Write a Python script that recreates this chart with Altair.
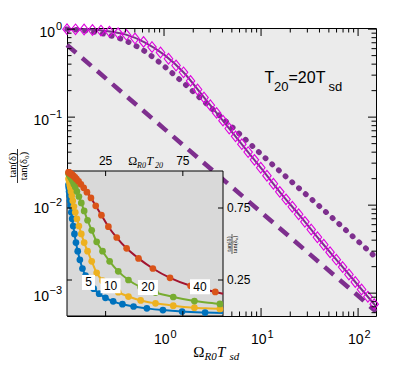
import altair as alt
import pandas as pd

# ---------------- main panel data (log-log) ----------------
solid_x = [0.1, 0.158, 0.251, 0.398, 0.631, 1.0, 1.585, 2.512, 3.981, 6.31, 10.0, 15.85, 25.1, 39.8, 63.1, 100.0, 153.0]
solid_y = [1.0, 0.989, 0.955, 0.871, 0.708, 0.513, 0.324, 0.174, 0.0933, 0.0495, 0.0263, 0.0138, 0.00759, 0.00407, 0.00224, 0.00123, 0.000708]

dotted_x = [0.1, 0.158, 0.251, 0.398, 0.631, 1.0, 1.585, 2.512, 5.01, 10.0, 19.95, 39.8, 100.0, 153.0]
dotted_y = [1.0, 0.955, 0.871, 0.741, 0.562, 0.380, 0.245, 0.155, 0.0776, 0.0380, 0.0191, 0.00977, 0.00389, 0.00254]

dashed_x = [0.1, 1.0, 10.0, 100.0, 153.0]
dashed_y = [0.661, 0.0741, 0.00832, 0.000933, 0.000617]

diamond_x = [0.100, 0.1225, 0.150, 0.183, 0.224, 0.274, 0.336, 0.410, 0.502, 0.615, 0.752, 0.920,
             1.112, 1.330, 1.589, 1.876, 2.215, 2.584, 3.00, 3.48, 4.05, 4.70, 5.46, 6.34, 7.36,
             8.55, 9.93, 11.5, 13.4, 15.6, 18.1, 21.0, 24.4, 28.3, 32.9, 38.1, 44.3, 51.4, 59.7,
             69.3, 80.5, 93.5, 108.6, 126.2, 146.6]
diamond_y = [1.000, 0.995, 0.991, 0.978, 0.963, 0.937, 0.901, 0.859, 0.784, 0.716, 0.626, 0.543,
             0.461, 0.386, 0.323, 0.258, 0.206, 0.167, 0.1365, 0.1117, 0.0912, 0.0743, 0.0605,
             0.0493, 0.0401, 0.0327, 0.0266, 0.0216, 0.0175, 0.01416, 0.01164, 0.00959, 0.00788,
             0.00646, 0.00528, 0.00432, 0.00355, 0.00292, 0.00240, 0.00198, 0.00163, 0.00134,
             0.00110, 0.00091, 0.00075]

x_major = [1, 10, 100]
x_major_exp = ["0", "1", "2"]
x_minor = [0.2, 0.3, 0.4, 0.5, 0.6, 0.7, 0.8, 0.9, 2, 3, 4, 5, 6, 7, 8, 9,
           20, 30, 40, 50, 60, 70, 80, 90]
y_major = [1, 0.1, 0.01, 0.001]
y_major_exp = ["0", "\u22121", "\u22122", "\u22123"]
y_minor = [0.0006, 0.0007, 0.0008, 0.0009, 0.002, 0.003, 0.004, 0.005, 0.006, 0.007, 0.008, 0.009,
           0.02, 0.03, 0.04, 0.05, 0.06, 0.07, 0.08, 0.09, 0.2, 0.3, 0.4, 0.5, 0.6, 0.7, 0.8, 0.9]

# ---------------- inset data (linear) ----------------
curve_names = ["5", "10", "20", "40"]
blue_x = [89.4, 74.5, 62.1, 51.7, 43.1, 35.9, 29.9, 24.9, 20.8, 17.3, 14.4, 12.0, 10.0, 8.33, 6.94,
          5.79, 4.82, 4.02, 3.35, 2.79, 2.33, 1.94, 1.62, 1.35, 1.12, 0.94]
blue_y = [0.024, 0.031, 0.041, 0.053, 0.066, 0.082, 0.102, 0.126, 0.155, 0.19, 0.235, 0.28, 0.33,
          0.39, 0.45, 0.51, 0.57, 0.625, 0.675, 0.72, 0.765, 0.80, 0.835, 0.865, 0.89, 0.91]
yellow_x = [99, 82.5, 68.8, 57.3, 47.7, 39.8, 33.2, 27.6, 23.0, 19.2, 16.0, 13.3, 11.1, 9.26, 7.72,
            6.43, 5.36, 4.47, 3.72, 3.10, 2.58, 2.15, 1.80, 1.50, 1.25, 1.04]
yellow_y = [0.049, 0.058, 0.072, 0.088, 0.108, 0.135, 0.165, 0.20, 0.245, 0.30, 0.38, 0.45, 0.51,
            0.57, 0.625, 0.675, 0.72, 0.76, 0.80, 0.835, 0.865, 0.89, 0.91, 0.93, 0.945, 0.955]
green_x = [99, 82.5, 68.8, 57.3, 47.7, 39.8, 33.2, 27.6, 23.0, 19.2, 16.0, 13.3, 11.1, 9.26, 7.72,
           6.43, 5.36, 4.47, 3.72, 3.10, 2.58, 2.15, 1.80, 1.50, 1.25, 1.04]
green_y = [0.084, 0.104, 0.132, 0.163, 0.20, 0.25, 0.31, 0.38, 0.45, 0.515, 0.595, 0.665, 0.73,
           0.785, 0.83, 0.865, 0.895, 0.915, 0.935, 0.95, 0.96, 0.968, 0.975, 0.981, 0.986, 0.99]
red_x = [96, 80, 66.7, 55.6, 46.3, 38.6, 32.2, 26.8, 22.3, 18.6, 15.5, 12.9, 10.8, 9.0, 7.5, 6.2,
         5.2, 4.3, 3.6, 3.0, 2.5, 2.1, 1.7, 1.45, 1.2, 1.0]
red_y = [0.167, 0.21, 0.265, 0.33, 0.40, 0.47, 0.545, 0.62, 0.70, 0.765, 0.82, 0.86, 0.89, 0.915,
         0.935, 0.95, 0.962, 0.972, 0.978, 0.983, 0.987, 0.99, 0.993, 0.995, 0.997, 0.998]
line_start_x, line_start_y = 0.0, 1.0
line_end_x = 101.0
line_end_y = [0.020, 0.043, 0.081, 0.155]

label_x = [13.9, 28.2, 52.4, 86.1]
label_y = [0.233, 0.21, 0.198, 0.203]

inset_xticks = [25, 75]
inset_yticks = [0.25, 0.75]
inset_ylabels = ["0.25", "0.75"]

# ---------------- styling ----------------
W, H = 309, 288
SANS = "Liberation Sans"
SERIF = "Liberation Serif"
PURPLE = "#7E2F8E"
MAGENTA = "#E000E0"
marker_colors = ["#0072BD", "#EDB120", "#77AC30", "#D95319"]
line_colors = ["#0072BD", "#EDB120", "#77AC30", "#A2142F"]

XS = alt.Scale(type="log", domain=[0.1, 153], range=[0, W], nice=False)
YS = alt.Scale(type="log", domain=[5.5e-4, 1.03], range=[H, 0], nice=False)
IXS = alt.Scale(domain=[0, 101], range=[0, 156], nice=False, zero=False)
IYS = alt.Scale(domain=[0, 1], range=[288, 144], nice=False, zero=False)

DUMMY = pd.DataFrame({"d": [0]})


def mx(f="x"):
    return alt.X(f + ":Q", scale=XS, axis=None)


def my(f="y"):
    return alt.Y(f + ":Q", scale=YS, axis=None)


def main_line(xs, ys, **kw):
    df = pd.DataFrame({"x": xs, "y": ys})
    return alt.Chart(df).mark_line(**kw).encode(x=mx(), y=my())


def label(txt, x, y, size, font=SANS, style="normal", align="left",
          baseline="alphabetic", angle=0):
    return alt.Chart(DUMMY).mark_text(
        text=txt, fontSize=size, font=font, fontStyle=style, align=align,
        baseline=baseline, angle=angle, color="black"
    ).encode(x=alt.value(x), y=alt.value(y))


layers = []

# main curves
layers.append(main_line(dashed_x, dashed_y, color=PURPLE, strokeWidth=4.5, strokeDash=[12, 8]))
layers.append(main_line(dotted_x, dotted_y, color=PURPLE, strokeWidth=5.5, strokeDash=[0.5, 8.5],
                        strokeCap="round", interpolate="monotone"))
layers.append(main_line(solid_x, solid_y, color=PURPLE, strokeWidth=2, interpolate="monotone"))
diamond_path = "M0,-1.25L1,0L0,1.25L-1,0Z"
layers.append(
    alt.Chart(pd.DataFrame({"x": diamond_x, "y": diamond_y}))
    .mark_point(shape=diamond_path, size=72, filled=False, color=MAGENTA, strokeWidth=1.1, opacity=1)
    .encode(x=mx(), y=my())
)

# main ticks (all four sides, inward)
for vals, ln in [(x_major, 8), (x_minor, 4.5)]:
    d = pd.DataFrame({"v": vals})
    r = alt.Chart(d).mark_rule(color="black", strokeWidth=1)
    layers.append(r.encode(x=mx("v"), y=alt.value(0), y2=alt.value(ln)))
    layers.append(r.encode(x=mx("v"), y=alt.value(H), y2=alt.value(H - ln)))
for vals, ln in [(y_major, 8), (y_minor, 4.5)]:
    d = pd.DataFrame({"v": vals})
    r = alt.Chart(d).mark_rule(color="black", strokeWidth=1)
    layers.append(r.encode(y=my("v"), x=alt.value(0), x2=alt.value(ln)))
    layers.append(r.encode(y=my("v"), x=alt.value(W), x2=alt.value(W - ln)))

# main tick labels  (10 with superscript exponent)
xl = pd.DataFrame({"v": x_major, "e": x_major_exp, "b": ["10"] * len(x_major)})
layers.append(alt.Chart(xl).mark_text(align="right", baseline="alphabetic", fontSize=14, font=SANS, dx=5.5)
              .encode(x=mx("v"), y=alt.value(H + 27.5), text="b:N"))
layers.append(alt.Chart(xl).mark_text(align="left", baseline="alphabetic", fontSize=11, font=SANS, dx=6.5)
              .encode(x=mx("v"), y=alt.value(H + 21.5), text="e:N"))
yl = pd.DataFrame({"v": y_major, "e": y_major_exp, "b": ["10"] * len(y_major)})
layers.append(alt.Chart(yl).mark_text(align="right", baseline="alphabetic", fontSize=11, font=SANS, dy=1)
              .encode(y=my("v"), x=alt.value(-5), text="e:N"))
layers.append(alt.Chart(yl).transform_filter("datum.e == '0'")
              .mark_text(align="right", baseline="alphabetic", fontSize=14, font=SANS, dy=7.5)
              .encode(y=my("v"), x=alt.value(-12), text="b:N"))
layers.append(alt.Chart(yl).transform_filter("datum.e != '0'")
              .mark_text(align="right", baseline="alphabetic", fontSize=14, font=SANS, dy=7.5)
              .encode(y=my("v"), x=alt.value(-18), text="b:N"))

# main axis titles
layers.append(label("\u03a9", 126.3, 328.5, 15, font=SERIF))
layers.append(label("R0", 137.5, 331.5, 11, font=SERIF, style="italic"))
layers.append(label("T", 150, 328.5, 15, font=SERIF, style="italic"))
layers.append(label("sd", 162.5, 331.5, 11, font=SERIF, style="italic"))
layers.append(label("tan(\u03b4)", -51.5, 137, 10.5, font=SERIF, align="center", angle=270))
layers.append(alt.Chart(DUMMY).mark_rule(color="black", strokeWidth=0.8)
              .encode(x=alt.value(-49.5), y=alt.value(121), y2=alt.value(155)))
layers.append(label("tan(\u03b4\u2080)", -40.5, 138, 10.5, font=SERIF, align="center", angle=270))

# annotation T20 = 20 Tsd
layers.append(label("T", 197.5, 55.3, 16))
layers.append(label("20", 207, 62.5, 13))
layers.append(label("=20T", 221.5, 55.3, 16))
layers.append(label("sd", 261.5, 62.5, 13))

# ---------------- inset ----------------
layers.append(alt.Chart(DUMMY).mark_rect(fill="#D9D9D9", stroke="black", strokeWidth=1)
              .encode(x=alt.value(0), x2=alt.value(156), y=alt.value(143), y2=alt.value(288)))

ix_rows, iy_rows, ic_rows = [], [], []
lx_rows, ly_rows, lc_rows = [], [], []
for name, xs, ys, ye in zip(curve_names, [blue_x, yellow_x, green_x, red_x],
                            [blue_y, yellow_y, green_y, red_y], line_end_y):
    ix_rows += xs
    iy_rows += ys
    ic_rows += [name] * len(xs)
    lx_rows += [line_start_x] + xs + [line_end_x]
    ly_rows += [line_start_y] + ys + [ye]
    lc_rows += [name] * (len(xs) + 2)
ipts = pd.DataFrame({"x": ix_rows, "y": iy_rows, "c": ic_rows})
ilines = pd.DataFrame({"x": lx_rows, "y": ly_rows, "c": lc_rows})

layers.append(alt.Chart(ilines).mark_line(strokeWidth=2, interpolate="monotone").encode(
    x=alt.X("x:Q", scale=IXS, axis=None), y=alt.Y("y:Q", scale=IYS, axis=None),
    color=alt.Color("c:N", scale=alt.Scale(domain=curve_names, range=line_colors), legend=None),
    detail="c:N"))
layers.append(alt.Chart(ipts).mark_point(filled=True, size=45, opacity=1).encode(
    x=alt.X("x:Q", scale=IXS, axis=None), y=alt.Y("y:Q", scale=IYS, axis=None),
    color=alt.Color("c:N", scale=alt.Scale(domain=curve_names, range=marker_colors), legend=None)))

# inset ticks
d = pd.DataFrame({"v": inset_xticks})
r = alt.Chart(d).mark_rule(color="black", strokeWidth=1)
layers.append(r.encode(x=alt.X("v:Q", scale=IXS, axis=None), y=alt.value(143), y2=alt.value(148)))
layers.append(r.encode(x=alt.X("v:Q", scale=IXS, axis=None), y=alt.value(288), y2=alt.value(283)))
d = pd.DataFrame({"v": inset_yticks, "t": inset_ylabels})
r = alt.Chart(d).mark_rule(color="black", strokeWidth=1)
layers.append(r.encode(y=alt.Y("v:Q", scale=IYS, axis=None), x=alt.value(156), x2=alt.value(151)))
layers.append(r.encode(y=alt.Y("v:Q", scale=IYS, axis=None), x=alt.value(0), x2=alt.value(5)))
layers.append(alt.Chart(d).mark_text(align="left", baseline="middle", fontSize=12, font=SANS)
              .encode(y=alt.Y("v:Q", scale=IYS, axis=None), x=alt.value(160), text="t:N"))
dx_lab = pd.DataFrame({"v": inset_xticks, "t": [str(v) for v in inset_xticks]})
layers.append(alt.Chart(dx_lab).mark_text(align="center", baseline="alphabetic", fontSize=12, font=SANS)
              .encode(x=alt.X("v:Q", scale=IXS, axis=None), y=alt.value(137), text="t:N"))

# inset axis titles
layers.append(label("\u03a9", 61.3, 137, 12, font=SERIF))
layers.append(label("R0", 70, 139.5, 8, font=SERIF, style="italic"))
layers.append(label("T", 79.5, 137, 12, font=SERIF, style="italic"))
layers.append(label("20", 88, 139.5, 8, font=SERIF, style="italic"))
layers.append(label("tan(\u03b4)", 163.5, 216, 6.5, font=SERIF, align="center", angle=270))
layers.append(alt.Chart(DUMMY).mark_rule(color="black", strokeWidth=0.6)
              .encode(x=alt.value(165), y=alt.value(206), y2=alt.value(226)))
layers.append(label("tan(\u03b4\u2080)", 170, 216.5, 6.5, font=SERIF, align="center", angle=270))

# curve labels with white boxes
box_wide = "M-1,-0.75L1,-0.75L1,0.75L-1,0.75Z"
box_narrow = "M-0.65,-0.75L0.65,-0.75L0.65,0.75L-0.65,0.75Z"
lab_df = pd.DataFrame({"x": label_x, "y": label_y, "t": curve_names})
layers.append(alt.Chart(lab_df).mark_point(filled=True, size=400, opacity=1, color="white", strokeWidth=0)
              .encode(x=alt.X("x:Q", scale=IXS, axis=None), y=alt.Y("y:Q", scale=IYS, axis=None),
                      shape=alt.Shape("t:N", scale=alt.Scale(domain=curve_names,
                                      range=[box_narrow, box_wide, box_wide, box_wide]), legend=None)))
layers.append(alt.Chart(lab_df).mark_text(fontSize=12, font=SANS, align="center", baseline="middle", color="black")
              .encode(x=alt.X("x:Q", scale=IXS, axis=None), y=alt.Y("y:Q", scale=IYS, axis=None), text="t:N"))

chart = (
    alt.layer(*layers)
    .resolve_scale(x="independent", y="independent", color="independent", shape="independent")
    .properties(width=W, height=H, padding={"left": 59, "top": 20, "right": 31, "bottom": 46},
                autosize=alt.AutoSizeParams(type="none"))
    .configure_view(stroke="black", strokeWidth=1, fill="#EBEBEB")
)

chart.save("out.html", embed_options={"renderer": "svg", "actions": False})
